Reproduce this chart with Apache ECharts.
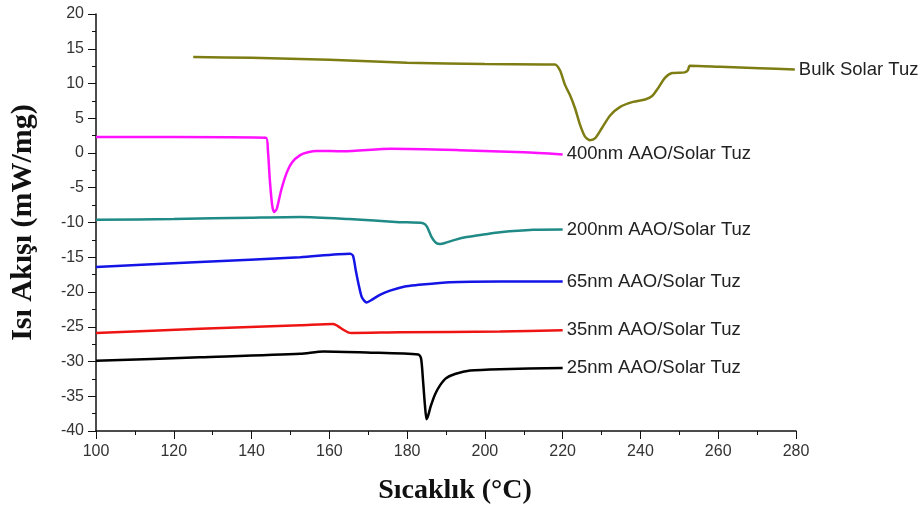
<!DOCTYPE html>
<html>
<head>
<meta charset="utf-8">
<script src="https://cdn.jsdelivr.net/npm/echarts@6/dist/echarts.min.js"></script>
<style>
  html, body { margin: 0; padding: 0; background: #fff; }
  #chart { width: 923px; height: 506px; }
</style>
</head>
<body>
<div id="chart"></div>
<script>
// DSC curves: [temperature °C, heat flow mW/mg]
var bulk = [[125,13.8],[140,13.7],[160,13.4],[180,13.0],[200,12.8],[218,12.74],[219.3,11.9],[220.6,9.8],[221.9,8.3],[223.2,6.4],[224.5,4.0],[225.7,2.4],[227,1.85],[228.3,2.1],[230.1,3.6],[232.2,5.4],[234.7,6.6],[238.1,7.35],[241.2,7.7],[243,8.2],[244.5,9.3],[246.3,10.8],[248.1,11.5],[251.4,11.6],[252.2,11.9],[252.7,12.55],[260.5,12.4],[270.7,12.2],[279.7,12.0]];
var nm400 = [[100,2.3],[120,2.3],[143.7,2.2],[144.2,0.4],[144.7,-3.9],[145.3,-7.5],[145.8,-8.5],[146.5,-8.0],[147.6,-5.4],[149,-2.9],[150.4,-1.35],[152.5,-0.3],[154.5,0.1],[156.7,0.3],[163.5,0.24],[176,0.6],[193.6,0.4],[210,0.1],[220,-0.2]];
var nm200 = [[100,-9.6],[120,-9.5],[140,-9.3],[152.5,-9.2],[165,-9.5],[178,-9.95],[184.1,-10.1],[185.1,-10.6],[186.3,-12.1],[187.4,-12.9],[188.5,-13.1],[190,-12.9],[192.3,-12.5],[195.3,-12.1],[200,-11.7],[203.9,-11.4],[212.4,-11.05],[220,-11.0]];
var nm65 = [[100,-16.4],[126.7,-15.7],[152.5,-15.0],[165.3,-14.5],[166.1,-14.8],[166.8,-16.9],[167.6,-19.1],[168.4,-20.8],[169.6,-21.5],[171,-21.1],[173,-20.4],[175.6,-19.8],[179.4,-19.2],[182.5,-19.0],[191,-18.6],[203.9,-18.5],[220,-18.5]];
var nm35 = [[100,-25.9],[126.7,-25.3],[152.5,-24.8],[161,-24.6],[162.2,-24.9],[163.5,-25.4],[164.8,-25.8],[165.8,-25.9],[178.2,-25.8],[203.9,-25.7],[220,-25.5]];
var nm25 = [[100,-29.9],[126.7,-29.4],[152.5,-28.9],[158.5,-28.55],[169.6,-28.7],[182.9,-29.0],[183.6,-29.6],[184.1,-32.8],[184.6,-36.4],[185,-38.3],[185.4,-37.8],[186.1,-36.4],[187.2,-34.7],[188.5,-33.4],[190,-32.4],[192.3,-31.8],[196.2,-31.3],[203.9,-31.1],[220,-30.95]];

var names = ['Bulk Solar Tuz','400nm AAO/Solar Tuz','200nm AAO/Solar Tuz','65nm AAO/Solar Tuz','35nm AAO/Solar Tuz','25nm AAO/Solar Tuz'];
var colors = ['#7d7d14','#ff10ff','#1f8a86','#1414e6','#ee1414','#000000'];
var curves = [bulk, nm400, nm200, nm65, nm35, nm25];

var myChart = echarts.init(document.getElementById('chart'));

var series = curves.map(function (d, i) {
    return {
        name: names[i],
        type: 'line',
        data: d,
        showSymbol: false,
        smooth: 0.25,
        lineStyle: { color: colors[i], width: 2.5 },
        itemStyle: { color: colors[i] },
        endLabel: {
            show: true,
            formatter: '{a}',
            color: '#222',
            fontFamily: 'Liberation Sans',
            fontSize: 18.5,
            distance: 4
        }
    };
});

var option = {
    animation: false,
    grid: { left: 96, right: 127, top: 14, bottom: 75, containLabel: false, outerBoundsMode: 'none' },
    xAxis: {
        type: 'value',
        min: 100, max: 280, interval: 20,
        name: 'Sıcaklık (°C)',
        nameLocation: 'middle',
        nameGap: 46,
        nameTextStyle: { fontFamily: 'Liberation Serif', fontWeight: 'bold', fontSize: 28, color: '#111', padding: [0, 0, 0, 18] },
        axisLine: { onZero: false, lineStyle: { color: '#111', width: 1.5 } },
        axisTick: { length: 8, lineStyle: { color: '#111' } },
        minorTick: { show: true, splitNumber: 2, length: 4, lineStyle: { color: '#111' } },
        axisLabel: { color: '#333', fontFamily: 'Liberation Sans', fontSize: 16, margin: 13 },
        splitLine: { show: false }
    },
    yAxis: {
        type: 'value',
        min: -40, max: 20, interval: 5,
        name: 'Isı Akışı (mW/mg)',
        nameLocation: 'middle',
        nameGap: 58,
        nameTextStyle: { fontFamily: 'Liberation Serif', fontWeight: 'bold', fontSize: 30, color: '#111' },
        axisLine: { show: true, onZero: false, lineStyle: { color: '#111', width: 1.5 } },
        axisTick: { length: 8, lineStyle: { color: '#111' } },
        minorTick: { show: true, splitNumber: 2, length: 4, lineStyle: { color: '#111' } },
        axisLabel: { color: '#333', fontFamily: 'Liberation Sans', fontSize: 16, margin: 12 },
        splitLine: { show: false }
    },
    series: series
};

myChart.setOption(option);
</script>
</body>
</html>
